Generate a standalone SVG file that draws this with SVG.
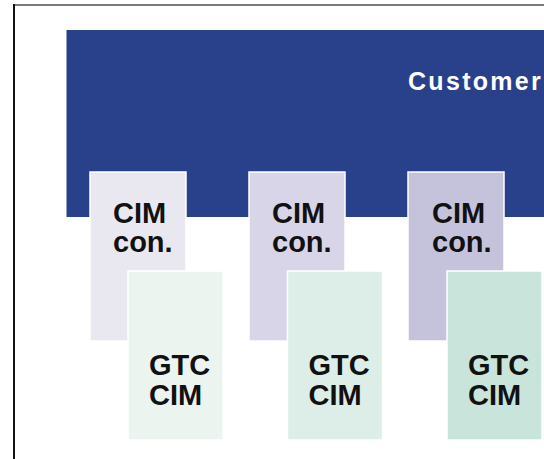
<svg xmlns="http://www.w3.org/2000/svg" width="544" height="459" viewBox="0 0 544 459">
  <style>
    .lbl { font-family: "Liberation Sans", Arial, sans-serif; font-size: 29px; font-weight: bold; fill: #111111; }
    .title { font-family: "Liberation Sans", Arial, sans-serif; font-size: 25px; font-weight: bold; fill: #ffffff; letter-spacing: 2.3px; }
    .box { stroke: #ffffff; stroke-width: 1.5; }
  </style>
  <rect x="0" y="0" width="544" height="459" fill="#ffffff"/>
  <!-- frame -->
  <line x1="14" y1="5" x2="544" y2="5" stroke="#7a7a7a" stroke-width="2"/>
  <line x1="14" y1="4" x2="14" y2="459" stroke="#111111" stroke-width="2"/>

  <g id="customer">
    <rect x="66.5" y="30" width="480" height="187" fill="#29408a"/>
    <text class="title" x="408" y="89.5">Customer</text>
  </g>

  <g id="cim-con-1">
    <rect class="box" x="90" y="172" width="96" height="169" fill="#e9e8f0"/>
    <text class="lbl" x="113" y="223">CIM</text>
    <text class="lbl" x="113" y="252">con.</text>
  </g>
  <g id="cim-con-2">
    <rect class="box" x="249" y="172" width="96" height="169" fill="#d8d5e8"/>
    <text class="lbl" x="272" y="223">CIM</text>
    <text class="lbl" x="272" y="252">con.</text>
  </g>
  <g id="cim-con-3">
    <rect class="box" x="408" y="172" width="96" height="169" fill="#c5c3dc"/>
    <text class="lbl" x="432" y="223">CIM</text>
    <text class="lbl" x="432" y="252">con.</text>
  </g>

  <g id="gtc-cim-1">
    <rect class="box" x="128" y="271" width="95" height="169" fill="#ecf4f0"/>
    <text class="lbl" x="149" y="375">GTC</text>
    <text class="lbl" x="149" y="405">CIM</text>
  </g>
  <g id="gtc-cim-2">
    <rect class="box" x="287.5" y="271" width="95" height="169" fill="#ddede7"/>
    <text class="lbl" x="308.5" y="375">GTC</text>
    <text class="lbl" x="308.5" y="405">CIM</text>
  </g>
  <g id="gtc-cim-3">
    <rect class="box" x="447" y="271" width="95" height="169" fill="#c9e4da"/>
    <text class="lbl" x="468" y="375">GTC</text>
    <text class="lbl" x="468" y="405">CIM</text>
  </g>

  <g id="connectors"/>
</svg>
